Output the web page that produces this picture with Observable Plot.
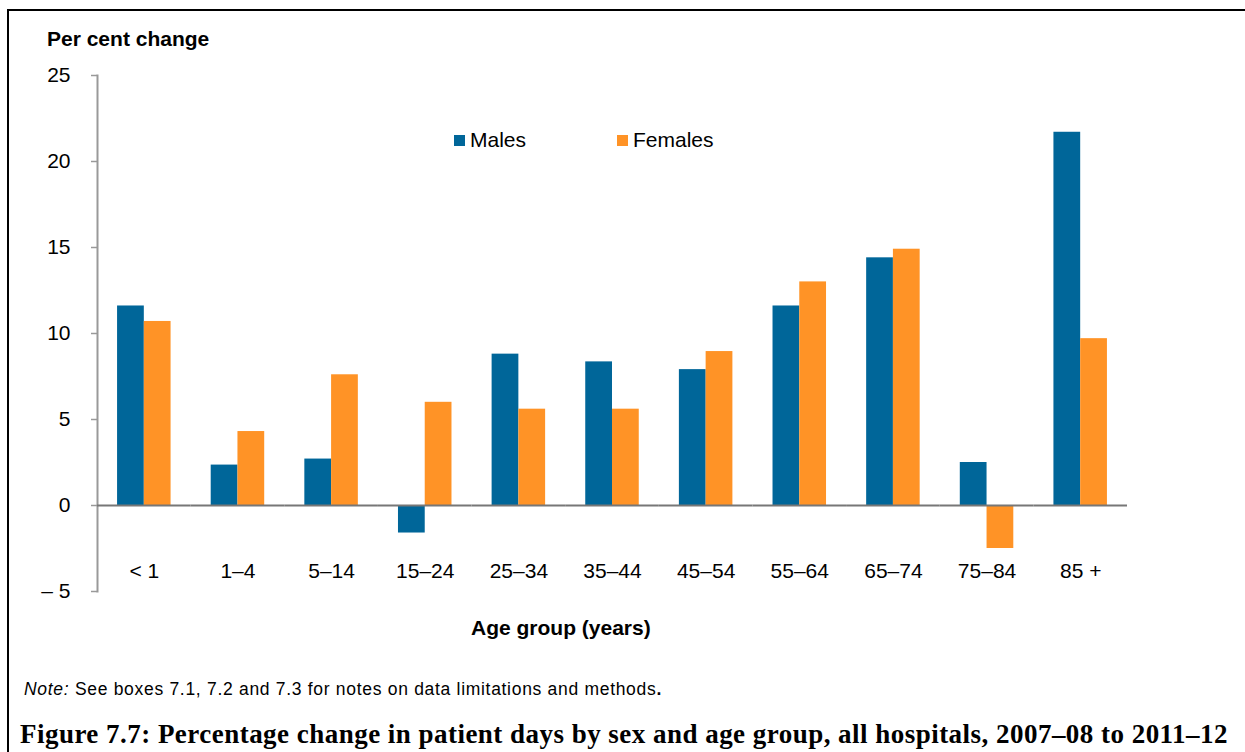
<!DOCTYPE html>
<html>
<head>
<meta charset="utf-8">
<script src="https://cdn.jsdelivr.net/npm/d3@7"></script>
<script src="https://cdn.jsdelivr.net/npm/@observablehq/plot@0.6"></script>
<style>
  html, body { margin: 0; padding: 0; background: #fff; }
  body { width: 1245px; height: 752px; position: relative; overflow: hidden; font-family: "Liberation Sans", Arial, sans-serif; }
  #box { position: absolute; left: 7px; top: 9px; width: 1300px; height: 800px; border-left: 2px solid #000; border-top: 2px solid #000; }
  #chart { position: absolute; left: 0; top: 0; }
  .lab { position: absolute; white-space: nowrap; color: #000; }
  #ytitle { left: 47px; top: 27px; font-size: 21px; font-weight: bold; }
  #xtitle { left: 471px; top: 616px; font-size: 21px; font-weight: bold; }
  #legend { left: 454px; top: 128px; font-size: 21px; }
  .sw { position: absolute; top: 0; white-space: nowrap; }
  .sq { display: inline-block; width: 11px; height: 11px; margin-right: 5px; vertical-align: 1px; }
  #note { left: 24px; top: 679px; font-size: 17.5px; }
  #title { left: 20px; top: 719px; font-size: 27px; font-weight: bold; font-family: "Liberation Serif", "Times New Roman", serif; }
</style>
</head>
<body>
<div id="box"></div>
<div id="chart"></div>
<div class="lab" id="ytitle">Per cent change</div>
<div class="lab" id="xtitle">Age group (years)</div>
<div class="lab" id="legend"></div>
<div class="lab" id="note"><i>Note:</i> See boxes 7.1, 7.2 and 7.3 for notes on data limitations and methods<b>.</b></div>
<div class="lab" id="title">Figure 7.7: Percentage change in patient days by sex and age group, all hospitals, 2007–08 to 2011–12</div>
<script>
const ages = ["< 1", "1–4", "5–14", "15–24", "25–34", "35–44", "45–54", "55–64", "65–74", "75–84", "85 +"];
const males = [11.6, 2.35, 2.7, -1.6, 8.8, 8.35, 7.9, 11.6, 14.4, 2.5, 21.7];
const females = [10.7, 4.3, 7.6, 6.0, 5.6, 5.6, 8.95, 13.0, 14.9, -2.5, 9.7];
const series = ["Males", "Females"];
const colors = ["#006699", "#FF9326"];
const yTicks = [-5, 0, 5, 10, 15, 20, 25];

const data = [];
ages.forEach((a, i) => {
  data.push({age: a, sex: series[0], value: males[i]});
  data.push({age: a, sex: series[1], value: females[i]});
});

const fmt = d => d < 0 ? "– " + Math.abs(d) : String(d);

const chart = Plot.plot({
  width: 1245,
  height: 660,
  marginLeft: 97,
  marginRight: 118,
  marginTop: 75,
  marginBottom: 69,
  style: {fontFamily: "'Liberation Sans', Arial, sans-serif", fontSize: "21px", color: "#000", background: "transparent"},
  fx: {domain: ages, padding: 0, round: false, axis: null},
  x: {domain: series, paddingInner: 0, paddingOuter: 0.75, round: false, axis: null},
  y: {domain: [-5, 25], axis: null},
  color: {domain: series, range: colors},
  marks: [
    Plot.frame({anchor: "left", facetAnchor: "left", stroke: "#999", strokeWidth: 2}),
    Plot.barY(data, {fx: "age", x: "sex", y: "value", fill: "sex"}),
    Plot.ruleY([0], {stroke: "#777", strokeWidth: 2}),
    Plot.axisY({ticks: yTicks, tickSize: 6, stroke: "#999", strokeWidth: 1.5, text: null, label: null}),
    Plot.axisY({ticks: yTicks, tickSize: 0, tickPadding: 27, tickFormat: fmt, fill: "#000", fontSize: 21, label: null}),
    Plot.axisFx({anchor: "bottom", tickSize: 0, dy: -37, fontSize: 21, fill: "#000", label: null})
  ]
});
document.getElementById("chart").appendChild(chart);

const legend = document.getElementById("legend");
const offsets = [0, 163];
series.forEach((s, i) => {
  const d = document.createElement("span");
  d.className = "sw";
  d.style.left = offsets[i] + "px";
  d.innerHTML = `<span class="sq" style="background:${colors[i]}"></span>${s}`;
  legend.appendChild(d);
});

// stretch texts to the reference widths
function fitWidth(id, target) {
  const el = document.getElementById(id);
  const w = el.getBoundingClientRect().width;
  const n = el.textContent.length;
  el.style.letterSpacing = ((target - w) / n) + "px";
}
fitWidth("note", 638);
fitWidth("title", 1208);
</script>
</body>
</html>
